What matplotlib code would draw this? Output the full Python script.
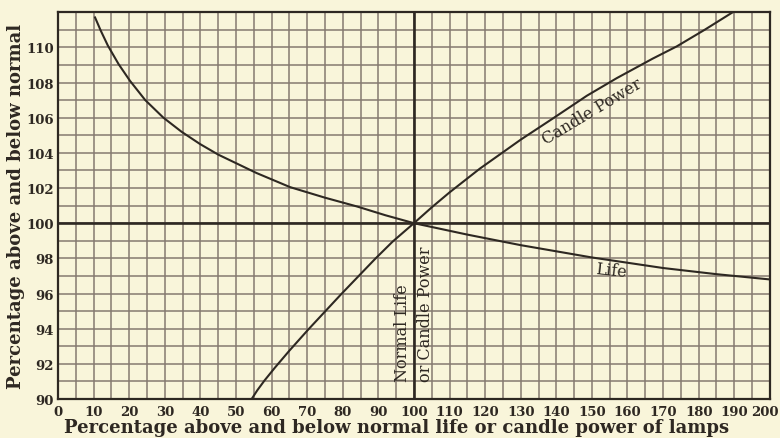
import matplotlib
matplotlib.use("Agg")
import matplotlib.pyplot as plt
import matplotlib.transforms as mtransforms

# readings taken off the scanned chart
life_x = [10.4, 12, 14, 17, 20.2, 24.5, 29.6, 34.7, 39.9, 45, 55.8, 65.2, 75, 84, 92, 100,
          115, 130, 150, 170, 185, 200]
life_y = [111.7, 110.95, 110.1, 109.05, 108.1, 107.0, 106.0, 105.2, 104.5, 103.9, 102.85,
          102.05, 101.45, 100.95, 100.45, 100.0, 99.35, 98.75, 98.05, 97.45, 97.1, 96.8]

cp_x = [54.4, 56, 58, 61, 65, 70.3, 79.5, 89, 94, 100, 105, 110, 118.5, 130, 139, 148.6, 157,
        167, 173.8, 181.7, 189.6]
cp_y = [90.0, 90.5, 91.05, 91.8, 92.75, 93.95, 95.95, 97.95, 98.95, 100.0, 100.9, 101.75,
        103.1, 104.75, 105.95, 107.25, 108.25, 109.35, 110.05, 111.0, 112.0]

x_ticks = list(range(0, 201, 10))
y_ticks = list(range(90, 111, 2))

paper = "#f9f5da"
ink = "#2e2822"
grid_col = "#857a70"

plt.rcParams["font.family"] = ["DejaVu Serif"]

fig = plt.figure(figsize=(7.8, 4.39), dpi=100)
fig.patch.set_facecolor(paper)
ax = fig.add_axes([0.0744, 0.0888, 0.9126, 0.8812])
ax.set_facecolor(paper)

ax.set_xlim(0, 200)
ax.set_ylim(90, 112)

ax.set_xticks(x_ticks)
ax.set_yticks(y_ticks)
ax.set_xticks(range(0, 201, 5), minor=True)
ax.set_yticks(range(90, 113, 1), minor=True)
ax.grid(which="both", color=grid_col, linewidth=1.1)
ax.set_axisbelow(True)
ax.tick_params(which="both", length=0)
ax.tick_params(axis="x", pad=4, labelsize=9.5, colors=ink)
ax.tick_params(axis="y", pad=3, labelsize=9.5, colors=ink)
for lab in ax.get_xticklabels() + ax.get_yticklabels():
    lab.set_fontweight("bold")
# last x label sits a little in from the edge, as in the print
last = ax.get_xticklabels()[-1]
last.set_transform(last.get_transform() +
                   mtransforms.ScaledTranslation(-5 / 100, 0, fig.dpi_scale_trans))

for s in ax.spines.values():
    s.set_color(ink)
    s.set_linewidth(1.6)

# normal life / candle power axes
ax.axhline(100, color=ink, linewidth=1.9)
ax.axvline(100, color=ink, linewidth=1.9)

ax.plot(life_x, life_y, color=ink, linewidth=1.5)
ax.plot(cp_x, cp_y, color=ink, linewidth=1.5)

ax.text(150.0, 106.4, "Candle Power", rotation=31, ha="center", va="center",
        fontsize=11.5, color=ink, rotation_mode="anchor")
ax.text(155.5, 97.3, "Life", rotation=-6, ha="center", va="center",
        fontsize=11.5, color=ink, rotation_mode="anchor")
ax.text(96.8, 91.0, "Normal Life", rotation=90, ha="center", va="bottom",
        fontsize=11.5, color=ink)
ax.text(103.2, 91.0, "or Candle Power", rotation=90, ha="center", va="bottom",
        fontsize=11.5, color=ink)

ax.set_xlabel("Percentage above and below normal life or candle power of lamps",
              fontsize=13, fontweight="bold", color=ink, labelpad=-1)
ax.xaxis.set_label_coords(0.475, -0.05)
ax.set_ylabel("Percentage above and below normal", fontsize=13, fontweight="bold",
              color=ink, labelpad=1)

fig.savefig("out.png", dpi=100, facecolor=paper)
